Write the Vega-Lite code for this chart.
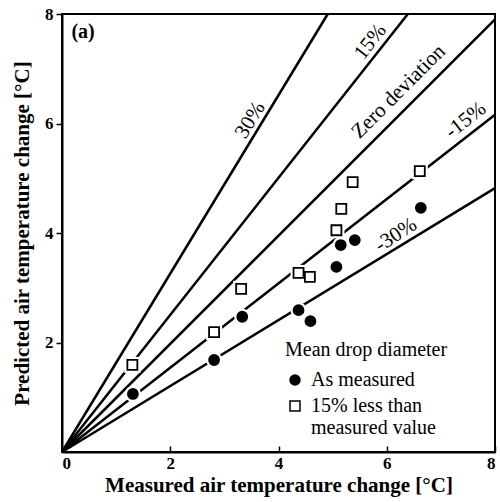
{
  "$schema": "https://vega.github.io/schema/vega-lite/v6.json",
  "width": 433,
  "height": 438,
  "autosize": {"type": "none"},
  "padding": {"left": 62, "top": 14, "right": 5, "bottom": 50},
  "background": "white",
  "config": {
    "view": {"stroke": "black", "strokeWidth": 2},
    "font": "Liberation Serif",
    "axis": {
      "grid": false,
      "domainColor": "black",
      "domainWidth": 2,
      "tickColor": "black",
      "tickWidth": 1.5,
      "labelFont": "Liberation Serif",
      "labelFontWeight": "bold",
      "labelFontSize": 17,
      "labelColor": "black",
      "titleFont": "Liberation Serif",
      "titleFontWeight": "bold",
      "titleFontSize": 21,
      "titleColor": "black"
    }
  },
  "datasets": {
    "lines": [
      {"name": "30%", "mx": 0, "py": 0}, {"name": "30%", "mx": 4.91, "py": 8},
      {"name": "15%", "mx": 0, "py": 0}, {"name": "15%", "mx": 6.39, "py": 8},
      {"name": "zero", "mx": 0, "py": 0}, {"name": "zero", "mx": 8, "py": 7.9},
      {"name": "-15%", "mx": 0, "py": 0}, {"name": "-15%", "mx": 8, "py": 6.16},
      {"name": "-30%", "mx": 0, "py": 0}, {"name": "-30%", "mx": 8, "py": 4.82}
    ],
    "points": [
      {"series": "As measured", "mx": 1.31, "py": 1.06},
      {"series": "As measured", "mx": 2.81, "py": 1.68},
      {"series": "As measured", "mx": 3.33, "py": 2.47},
      {"series": "As measured", "mx": 4.37, "py": 2.59},
      {"series": "As measured", "mx": 4.59, "py": 2.39},
      {"series": "As measured", "mx": 5.07, "py": 3.38},
      {"series": "As measured", "mx": 5.15, "py": 3.78},
      {"series": "As measured", "mx": 5.41, "py": 3.87},
      {"series": "As measured", "mx": 6.63, "py": 4.46},
      {"series": "15% less than measured value", "mx": 1.30, "py": 1.59},
      {"series": "15% less than measured value", "mx": 2.81, "py": 2.19},
      {"series": "15% less than measured value", "mx": 3.31, "py": 2.98},
      {"series": "15% less than measured value", "mx": 4.37, "py": 3.27},
      {"series": "15% less than measured value", "mx": 4.58, "py": 3.20},
      {"series": "15% less than measured value", "mx": 5.07, "py": 4.05},
      {"series": "15% less than measured value", "mx": 5.16, "py": 4.44},
      {"series": "15% less than measured value", "mx": 5.37, "py": 4.93},
      {"series": "15% less than measured value", "mx": 6.61, "py": 5.13}
    ],
    "labels": [
      {"text": "30%", "mx": 3.48, "py": 6.06, "angle": -59},
      {"text": "15%", "mx": 5.70, "py": 7.49, "angle": -52},
      {"text": "Zero deviation", "mx": 6.22, "py": 6.58, "angle": -45},
      {"text": "-15%", "mx": 7.46, "py": 6.06, "angle": -38},
      {"text": "-30%", "mx": 6.17, "py": 3.96, "angle": -33}
    ],
    "tag": [
      {"text": "(a)", "mx": 0.39, "py": 7.67}
    ]
  },
  "encoding": {
    "x": {
      "field": "mx", "type": "quantitative",
      "scale": {"domain": [0, 8], "nice": false},
      "axis": {"values": [0, 2, 4, 6, 8], "tickSize": -6, "labelPadding": 9, "title": "Measured air temperature change [°C]", "titlePadding": 3}
    },
    "y": {
      "field": "py", "type": "quantitative",
      "scale": {"domain": [0, 8], "nice": false},
      "axis": {"values": [2, 4, 6, 8], "tickSize": 6, "labelPadding": 3, "title": "Predicted air temperature change [°C]", "titlePadding": 12}
    }
  },
  "layer": [
    {
      "data": {"name": "lines"},
      "mark": {"type": "line", "color": "black", "strokeWidth": 2.5},
      "encoding": {"detail": {"field": "name"}}
    },
    {
      "data": {"name": "points"},
      "transform": [{"filter": "datum.series == 'As measured'"}],
      "mark": {"type": "point", "shape": "circle", "filled": true, "color": "white", "size": 260, "opacity": 1}
    },
    {
      "data": {"name": "points"},
      "transform": [{"filter": "datum.series != 'As measured'"}],
      "mark": {"type": "point", "shape": "square", "filled": true, "color": "white", "size": 260, "opacity": 1}
    },
    {
      "data": {"name": "points"},
      "mark": {"type": "point", "size": 100, "strokeWidth": 1.8, "opacity": 1},
      "encoding": {
        "shape": {
          "field": "series", "type": "nominal",
          "scale": {"domain": ["As measured", "15% less than measured value"], "range": ["circle", "square"]},
          "legend": {
            "orient": "none", "legendX": 223, "legendY": 326,
            "title": "Mean drop diameter",
            "titleFont": "Liberation Serif", "titleFontSize": 20, "titleFontWeight": "normal", "titleColor": "black",
            "labelFont": "Liberation Serif", "labelFontSize": 20, "labelColor": "black",
            "labelExpr": "datum.label == '15% less than measured value' ? ['15% less than', 'measured value'] : datum.label",
            "symbolSize": 100,
            "rowPadding": 6, "titlePadding": 10, "labelOffset": 6,
            "encode": {
              "symbols": {
                "update": {
                  "fill": {"signal": "datum.value == 'As measured' ? 'black' : 'white'"},
                  "stroke": {"value": "black"},
                  "strokeWidth": {"value": 1.8},
                  "opacity": {"value": 1}
                }
              }
            }
          }
        },
        "fill": {
          "field": "series", "type": "nominal",
          "scale": {"domain": ["As measured", "15% less than measured value"], "range": ["black", "white"]},
          "legend": null
        },
        "stroke": {"value": "black"}
      }
    },
    {
      "data": {"name": "labels"},
      "mark": {"type": "text", "font": "Liberation Serif", "fontSize": 21, "color": "black", "baseline": "middle", "align": "center"},
      "encoding": {"text": {"field": "text"}, "angle": {"field": "angle", "type": "quantitative", "scale": null}}
    },
    {
      "data": {"name": "tag"},
      "mark": {"type": "text", "font": "Liberation Serif", "fontSize": 20, "fontWeight": "bold", "color": "black", "baseline": "middle", "align": "center"},
      "encoding": {"text": {"field": "text"}}
    }
  ]
}
